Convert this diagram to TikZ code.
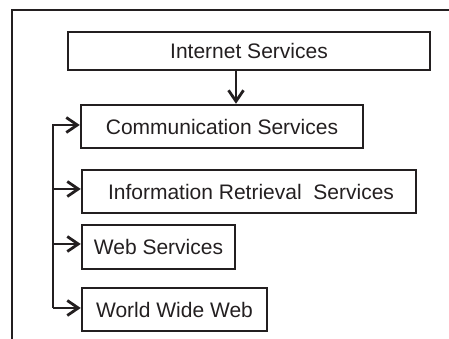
\documentclass[tikz,border=0pt]{standalone}
\usepackage{fontspec}
\setmainfont{Liberation Sans}
\usetikzlibrary{arrows.meta}
\definecolor{ink}{HTML}{231F20}
\begin{document}
\begin{tikzpicture}[x=1pt,y=1pt,
  box/.style={draw=ink, line width=2.5pt, text=ink, inner sep=0pt,
    font=\fontsize{21}{25}\selectfont},
  arr/.style={draw=ink, line width=2.3pt, -{Straight Barb[length=11pt,width=15pt,line width=2.8pt]}},
  frame/.style={draw=ink, line width=2.5pt}]
\useasboundingbox (0,0) rectangle (449,339);
\draw[frame] (12,-2) -- (12,329) -- (451,329);
\node[box, minimum width=362pt, minimum height=38pt] (inet) at (249,288) {Internet Services};
\node[box, minimum width=282pt, minimum height=43pt] (comm) at (222,212.5) {Communication Services};
\node[box, minimum width=334pt, minimum height=43pt] (info) at (249,147.5) {\hspace{4pt}Information Retrieval\ \ Services};
\node[box, minimum width=153pt, minimum height=44pt] (web) at (158.5,92) {Web Services\hspace{6pt}};
\node[box, minimum width=185pt, minimum height=43pt] (www) at (174.5,29.5) {World Wide Web\hspace{10pt}};
\coordinate (sptop) at (53,214);
\coordinate (spbot) at (53,31);
\coordinate (spinfo) at (53,150);
\coordinate (spweb) at (53,95);
\draw[arr] ([xshift=-13pt]inet.south) -- ([xshift=-13pt]inet.south |- comm.north);
\draw[arr] (spbot) -- (sptop) -- (comm.west |- sptop);
\draw[arr] (spinfo) -- (info.west |- spinfo);
\draw[arr] (spweb) -- (web.west |- spweb);
\draw[arr] (spbot) -- (www.west |- spbot);
\end{tikzpicture}
\end{document}
